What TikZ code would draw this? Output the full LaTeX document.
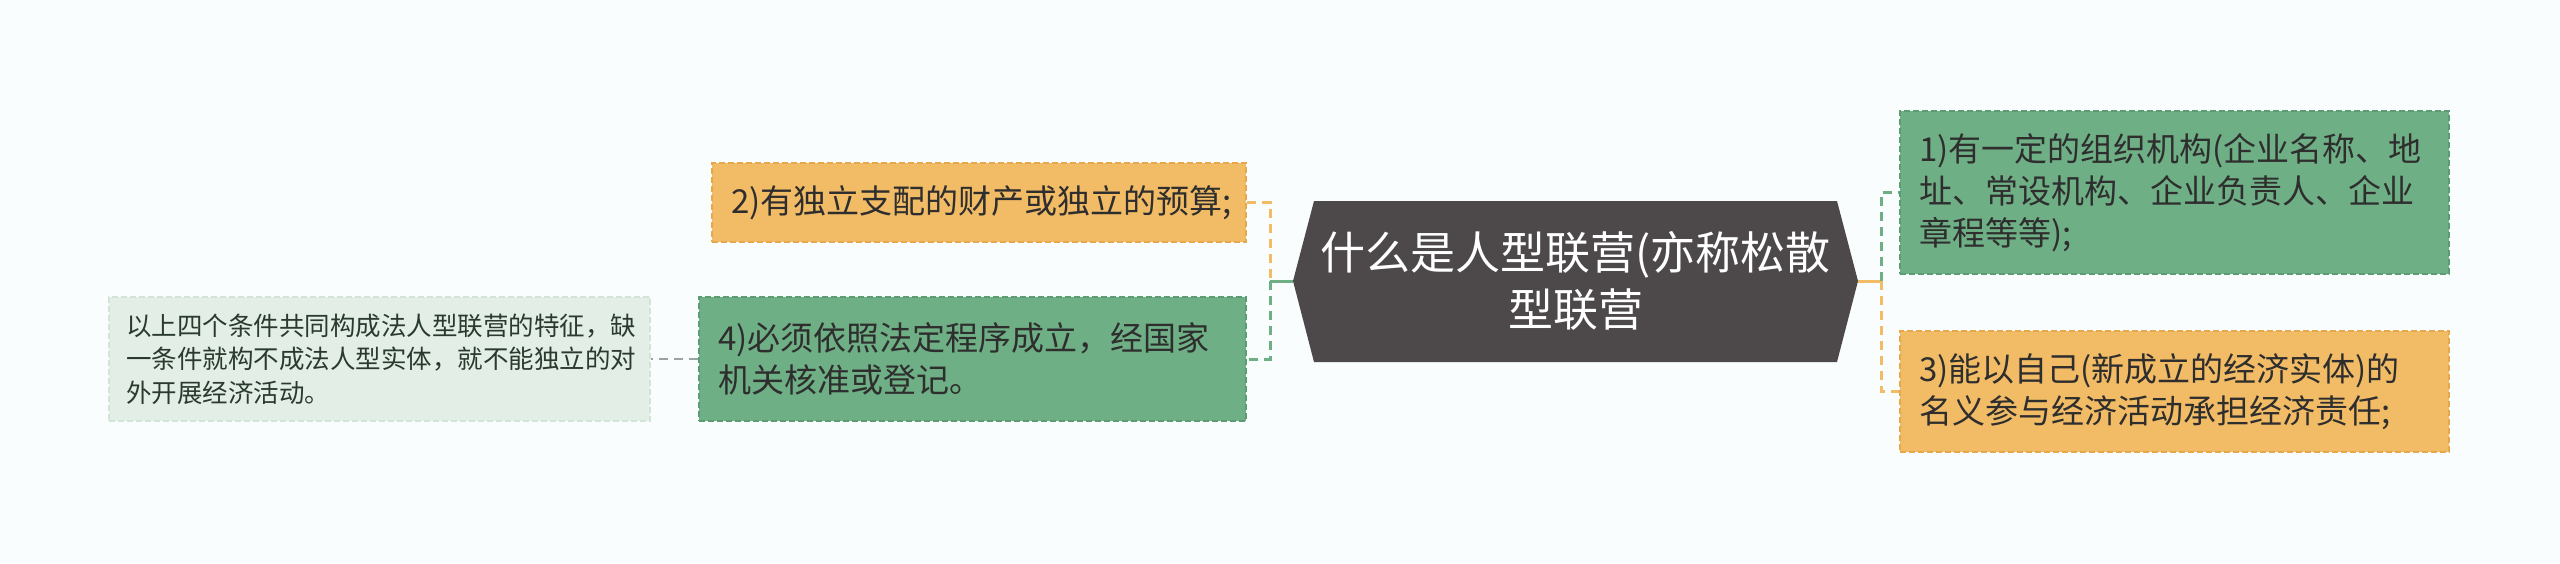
\documentclass[tikz,border=0pt]{standalone}
\usepackage{fontspec}
\setmainfont{Noto Sans CJK SC}
\definecolor{bgc}{HTML}{F9FDFD}
\definecolor{darkc}{HTML}{4D4849}
\definecolor{orfill}{HTML}{F2BC66}
\definecolor{ordraw}{HTML}{E6A84A}
\definecolor{grfill}{HTML}{6FAF85}
\definecolor{grdraw}{HTML}{5C9C72}
\definecolor{ltfill}{HTML}{E3EFE6}
\definecolor{ltdraw}{HTML}{D2E4D7}
\definecolor{txtc}{HTML}{2E2E2E}
\definecolor{notetxt}{HTML}{2A3A2E}
\definecolor{linegray}{HTML}{9AA39D}
\begin{document}
\begin{tikzpicture}[x=1pt,y=-1pt,
  boxbase/.style={rectangle, inner xsep=19pt, inner ysep=4pt, align=left,
    line width=1.5pt, dash pattern=on 6pt off 3pt},
  orbox/.style={boxbase, fill=orfill, draw=ordraw, text=txtc,
    font=\fontsize{33}{42}\selectfont},
  grbox/.style={boxbase, fill=grfill, draw=grdraw, text=txtc,
    font=\fontsize{33}{42}\selectfont},
  notebox/.style={boxbase, inner xsep=17pt, fill=ltfill, draw=ltdraw, text=notetxt,
    font=\fontsize{25.5}{33.5}\selectfont},
  conn/.style={line width=3pt, dash pattern=on 9pt off 6pt},
  connsolid/.style={line width=3pt}
]
\fill[bgc] (0,0) rectangle (2560,563);
\useasboundingbox (0,0) rectangle (2560,563);

% central node
\coordinate (cL) at (1293,281);
\coordinate (cR) at (1858,281);
\fill[darkc] (cL) -- (1314,201) -- (1837,201) -- (cR) -- (1837,362) -- (1314,362) -- cycle;
\node[text=white, align=center, font=\fontsize{45}{57}\selectfont] (c) at (1575.5,281)
  {什么是人型联营(亦称松散\\型联营};

% boxes
\node[orbox, minimum width=534pt, minimum height=79pt, text width=496pt] (b2) at (979,202.5)
  {2)有独立支配的财产或独立的预算;};
\node[grbox, minimum width=547pt, minimum height=124pt, text width=509pt] (b4) at (972.5,359)
  {4)必须依照法定程序成立，经国家\\机关核准或登记。};
\node[notebox, minimum width=541pt, minimum height=124pt, text width=507pt] (note) at (379.5,359)
  {以上四个条件共同构成法人型联营的特征，缺\\一条件就构不成法人型实体，就不能独立的对\\外开展经济活动。};
\node[grbox, minimum width=549pt, minimum height=163pt, text width=511pt] (b1) at (2174.5,192.5)
  {1)有一定的组织机构(企业名称、地\\址、常设机构、企业负责人、企业\\章程等等);};
\node[orbox, minimum width=549pt, minimum height=121pt, text width=511pt] (b3) at (2174.5,391.5)
  {3)能以自己(新成立的经济实体)的\\名义参与经济活动承担经济责任;};

% connectors
\coordinate (jL) at (1270,281);
\coordinate (jR) at (1881,281);
\draw[connsolid, grfill] (cL) -- (jL);
\draw[conn, orfill] (b2.east) -| (jL);
\draw[conn, grfill] (jL) |- (b4.east);
\draw[connsolid, orfill] (cR) -- (jR);
\draw[conn, grfill] (jR) |- (b1.west);
\draw[conn, orfill] (jR) |- (b3.west);
\draw[conn, linegray, line width=2pt] (b4.west) -- (note.east);
\end{tikzpicture}
\end{document}
